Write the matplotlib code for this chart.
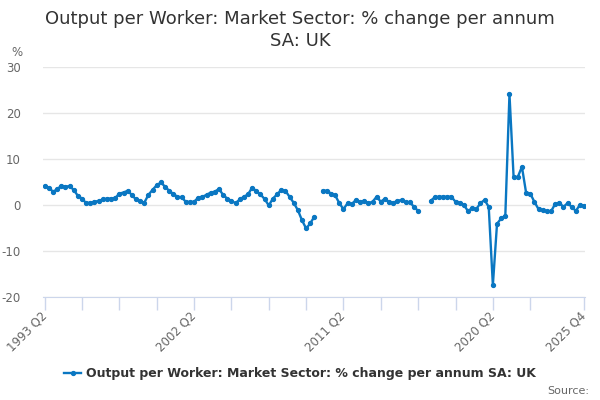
import numpy as np
import matplotlib
matplotlib.use('Agg')
import matplotlib.pyplot as plt
from matplotlib.lines import Line2D

# Quarterly periods 1993 Q2 .. 2025 Q4
quarters = []
for year in range(1993, 2026):
    for q in range(1, 5):
        if (year == 1993 and q < 2):
            continue
        quarters.append('%d Q%d' % (year, q))

nan = np.nan
values = [
    4.1, 3.8, 2.9, 3.4, 4.2, 4.0, 4.1, 3.3, 2.0, 1.4, 0.4, 0.5, 0.7, 0.9, 1.2, 1.4,
    1.4, 1.5, 2.5, 2.7, 3.1, 2.2, 1.2, 0.9, 0.5, 2.2, 3.3, 4.3, 4.9, 4.0, 3.1, 2.4,
    1.8, 1.7, 0.7, 0.65, 0.7, 1.6, 1.8, 2.2, 2.7, 2.9, 3.5, 2.2, 1.4, 0.9, 0.4, 1.2,
    1.8, 2.3, 3.8, 3.0, 2.3, 1.3, -0.1, 1.4, 2.3, 3.3, 3.1, 1.8, 0.5, -1.1, -3.3, -5.1,
    -4.0, -2.5, nan,
    3.1, 3.1, 2.5, 2.1, 0.4, -0.9, 0.4, 0.2, 1.1, 0.7, 0.9, 0.4, 0.7, 1.8, 0.7, 1.4,
    0.6, 0.5, 0.9, 1.1, 0.6, 0.6, -0.4, -1.3, nan, nan,
    0.9, 1.7, 1.8, 1.8, 1.8, 1.8, 0.7, 0.5, 0.0, -1.3, -0.7, -0.9, 0.4, 1.1, -0.4, -17.4,
    -4.1, -2.9, -2.3, 24.1, 6.0, 6.1, 8.3, 2.7, 2.5, 0.7, -0.9, -1.1, -1.4, -1.4, 0.2, 0.5,
    -0.4, 0.4, -0.4, -1.3, 0.1, -0.2,
]

tick_labels = ['1993 Q2', '2002 Q2', '2011 Q2', '2020 Q2', '2025 Q4']
y_ticks = [-20, -10, 0, 10, 20, 30]
series_name = 'Output per Worker: Market Sector: % change per annum SA: UK'

blue = '#0a77c2'
grey = '#666666'
axis_col = '#ccd6eb'

x = np.arange(len(quarters))

fig = plt.figure(figsize=(6, 4), dpi=100)
ax = fig.add_axes([43 / 600, 1 - 297 / 400, 542 / 600, 230 / 400])

ax.plot(x, values, color=blue, lw=1.7, marker='o', ms=2.8, zorder=3)

for s in ['top', 'right', 'left']:
    ax.spines[s].set_visible(False)
ax.spines['bottom'].set_color(axis_col)

ax.set_ylim(-20, 30)
ax.set_xlim(-0.4, 130.2)
ax.set_yticks(y_ticks)
ax.set_yticklabels([str(v) for v in y_ticks], color=grey, fontsize=8.5)
ax.grid(axis='y', color='#e6e6e6', lw=1)
ax.set_axisbelow(True)
ax.tick_params(axis='y', length=0, pad=16)

# x ticks: every 9 quarters plus the last one, labels on a few
minor = list(range(0, 118, 9)) + [len(quarters) - 1]
ax.set_xticks(minor)
lab_pos = [quarters.index(t) for t in tick_labels]
ax.tick_params(axis='x', length=9, color=axis_col, width=1, pad=3)
ax.set_xticklabels([quarters[i] if i in lab_pos else '' for i in minor],
                   rotation=45, ha='right', va='center', rotation_mode='anchor',
                   color=grey, fontsize=8.5)

fig.text(0.5, 1 - 19 / 400, 'Output per Worker: Market Sector: % change per annum',
         ha='center', va='center', fontsize=13, color='#333333')
fig.text(0.5, 1 - 41 / 400, 'SA: UK', ha='center', va='center',
         fontsize=13, color='#333333')
fig.text(11 / 600, 1 - 52 / 400, '%', ha='left', va='center', fontsize=8.5, color=grey)

handle = Line2D([], [], color=blue, lw=1.7, marker='o', ms=2.8)
fig.legend([handle], [series_name], loc='center', bbox_to_anchor=(0.5, 1 - 374 / 400),
           frameon=False, prop={'weight': 'bold', 'size': 9}, handlelength=1.4,
           handletextpad=0.4, labelcolor='#333333')

fig.text(589 / 600, 1 - 391 / 400, 'Source:', ha='right', va='center',
         fontsize=8, color=grey)

fig.savefig('out.png', dpi=100)
